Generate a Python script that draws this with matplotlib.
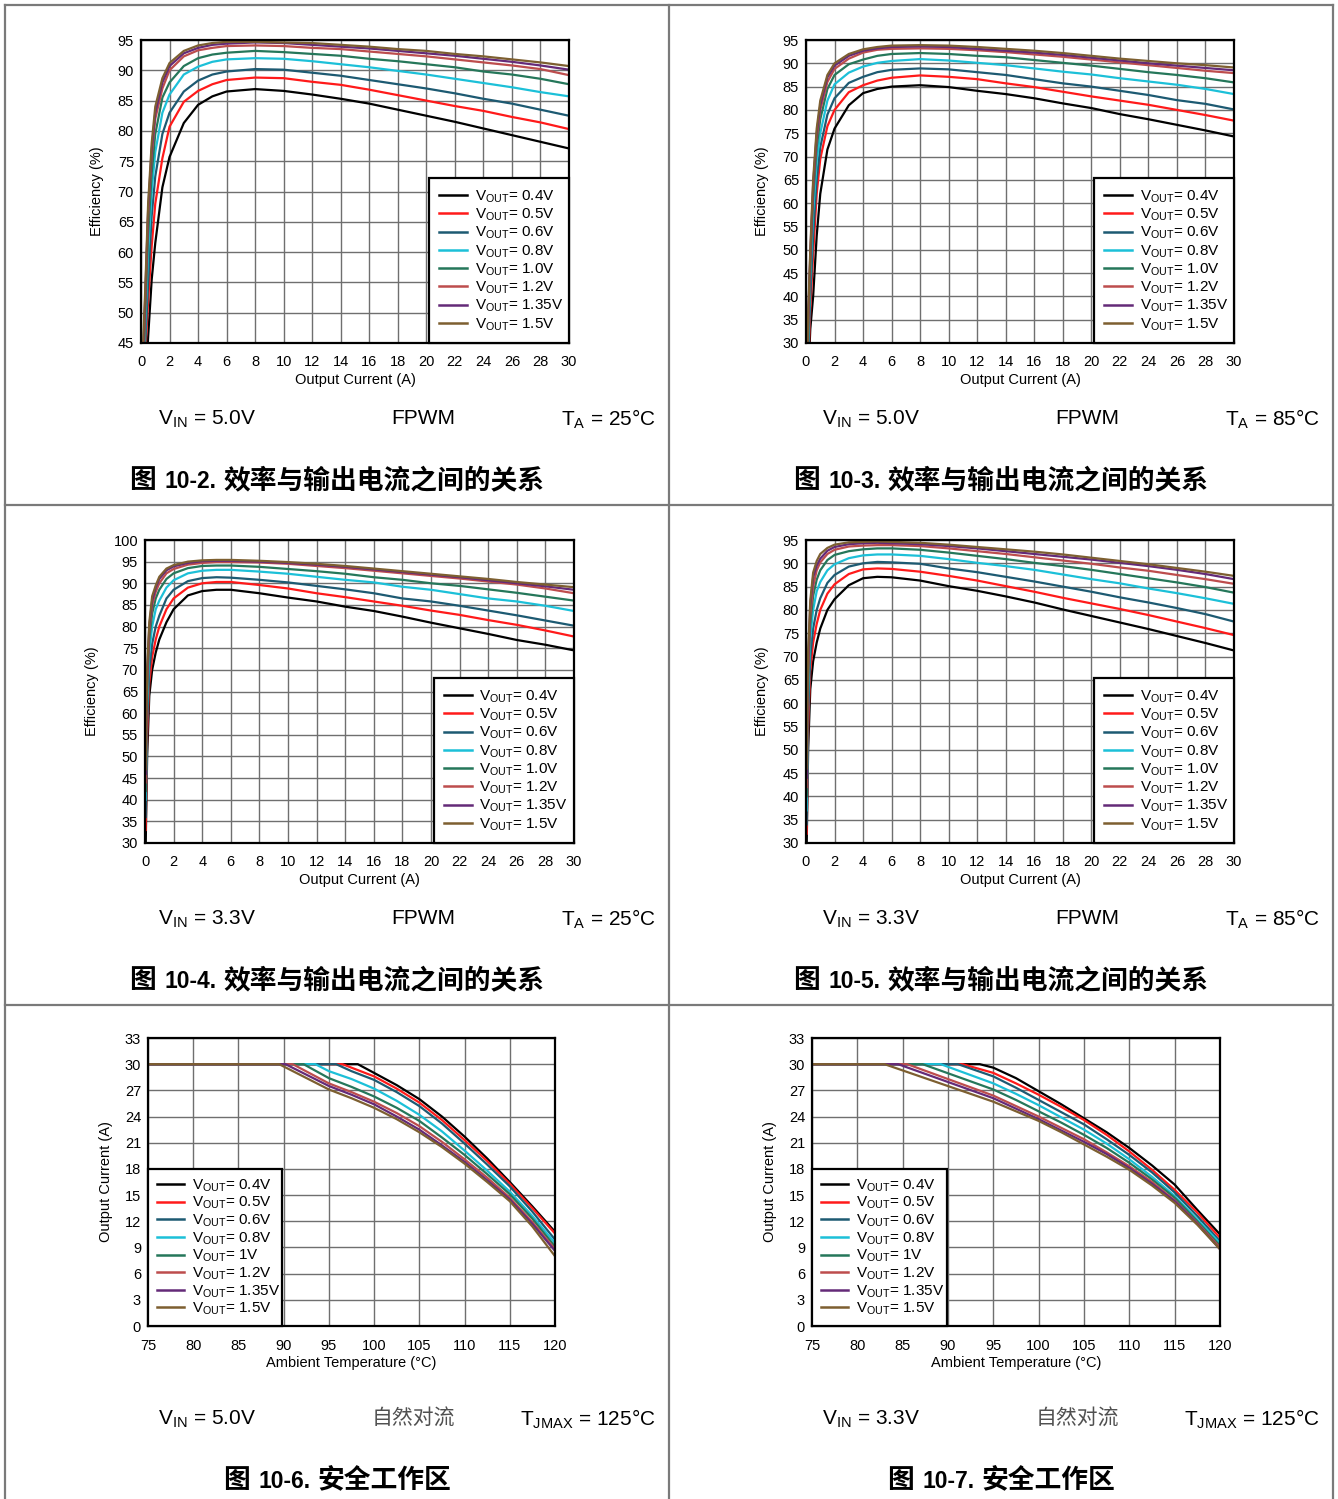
import matplotlib
matplotlib.use('Agg')
import matplotlib.pyplot as plt
from matplotlib.lines import Line2D

plt.rcParams['font.family'] = ['Liberation Sans', 'Noto Sans CJK SC', 'DejaVu Sans']
plt.rcParams['mathtext.fontset'] = 'custom'
plt.rcParams['mathtext.rm'] = 'Liberation Sans'
plt.rcParams['mathtext.it'] = 'Liberation Sans:italic'
plt.rcParams['mathtext.bf'] = 'Liberation Sans:bold'

# ---------------- data ----------------
VOUT_EFF = ['0.4V', '0.5V', '0.6V', '0.8V', '1.0V', '1.2V', '1.35V', '1.5V']
VOUT_SOA = ['0.4V', '0.5V', '0.6V', '0.8V', '1V', '1.2V', '1.35V', '1.5V']
COLORS = ['#000000', '#ff1a1a', '#1d5a72', '#1cc0d8', '#25775a', '#bd4d4d', '#642a78', '#7d5f30']

I_OUT = [0.05, 0.15, 0.3, 0.5, 0.75, 1, 1.5, 2, 3, 4, 5, 6, 8, 10, 12, 14, 16, 18, 20, 22, 24, 26, 28, 30]

EFF_5V_25C = [
    [10, 25, 38, 46, 55.5, 61.5, 70.7, 75.7, 81.3, 84.3, 85.7, 86.5, 86.9, 86.6, 86.0, 85.3, 84.5, 83.5, 82.5, 81.5, 80.4, 79.3, 78.2, 77.1],
    [12, 28, 43, 52, 61, 68, 75.5, 80.7, 84.8, 86.6, 87.7, 88.4, 88.8, 88.7, 88.1, 87.6, 86.8, 85.9, 85.0, 84.1, 83.3, 82.3, 81.4, 80.3],
    [14, 31, 45, 55, 66, 72.5, 79.5, 83, 86.5, 88.3, 89.3, 89.8, 90.2, 90.1, 89.6, 89.1, 88.4, 87.7, 87.0, 86.2, 85.3, 84.5, 83.5, 82.5],
    [16, 34, 48, 60, 70, 76.5, 83, 86, 89.3, 90.6, 91.4, 91.8, 92.0, 91.9, 91.5, 91.0, 90.5, 89.9, 89.3, 88.6, 87.9, 87.2, 86.4, 85.7],
    [18, 37, 50, 63, 73, 79.5, 85.5, 88, 90.7, 92, 92.6, 92.9, 93.2, 93.0, 92.7, 92.4, 91.9, 91.5, 91.0, 90.5, 89.8, 89.3, 88.6, 87.7],
    [20, 41, 52, 66, 76, 82, 87, 90, 92.3, 93.3, 93.7, 94.0, 94.1, 94.0, 93.7, 93.5, 93.1, 92.7, 92.3, 91.8, 91.3, 90.8, 90.2, 89.2],
    [21, 43, 53, 67, 77, 83, 88, 90.7, 92.8, 93.7, 94.2, 94.4, 94.6, 94.5, 94.2, 93.9, 93.6, 93.2, 92.8, 92.4, 91.9, 91.4, 90.8, 90.1],
    [22, 45, 54, 68, 78, 84, 88.7, 91.2, 93.2, 94.1, 94.5, 94.7, 94.7, 94.6, 94.5, 94.2, 93.9, 93.5, 93.2, 92.7, 92.3, 91.8, 91.3, 90.7],
]

EFF_5V_85C = [
    [10, 22, 33, 40, 53, 62, 71.5, 76, 81, 83.6, 84.5, 85.0, 85.3, 84.9, 84.1, 83.4, 82.5, 81.4, 80.4, 79.1, 78.0, 76.8, 75.6, 74.3],
    [11, 25, 37, 49, 62, 69.5, 76.5, 80, 83.8, 85.3, 86.3, 86.9, 87.4, 87.1, 86.6, 85.7, 84.9, 83.9, 82.9, 82.0, 81.1, 80.0, 78.9, 77.7],
    [12, 27, 40, 53, 65, 72, 79, 82.5, 85.8, 87.1, 88.1, 88.6, 88.9, 88.7, 88.1, 87.5, 86.6, 85.7, 85.0, 84.1, 83.2, 82.1, 81.3, 80.1],
    [13, 30, 44, 58, 69, 75, 82, 85.5, 88, 89.3, 90.1, 90.5, 90.9, 90.6, 90.1, 89.6, 88.9, 88.2, 87.6, 86.8, 86.1, 85.4, 84.5, 83.4],
    [14, 32, 46, 61, 72, 78, 84.5, 87.5, 89.8, 90.8, 91.6, 92.0, 92.2, 92.0, 91.6, 91.3, 90.7, 90.1, 89.5, 88.8, 88.1, 87.5, 86.8, 85.9],
    [15, 34, 48, 63, 74, 80, 86, 88.8, 91, 92.3, 92.9, 93.1, 93.2, 93.1, 92.8, 92.4, 91.9, 91.4, 90.8, 90.2, 89.6, 89.0, 88.4, 87.9],
    [16, 35, 49, 64, 75, 81, 87, 89.5, 91.6, 92.7, 93.2, 93.5, 93.6, 93.5, 93.1, 92.7, 92.3, 91.8, 91.2, 90.6, 90.0, 89.5, 89.0, 88.5],
    [17, 36, 50, 65, 76, 82, 87.5, 90, 92, 93, 93.5, 93.8, 93.9, 93.8, 93.5, 93.1, 92.7, 92.2, 91.6, 91.0, 90.5, 90.0, 89.6, 89.1],
]

EFF_33V_25C = [
    [30, 50, 64, 70, 74, 77, 81, 84, 87.2, 88.2, 88.5, 88.5, 87.7, 86.7, 85.8, 84.6, 83.6, 82.3, 80.9, 79.6, 78.3, 76.9, 75.8, 74.5],
    [33, 55, 67, 73, 77, 80, 84, 86.5, 89, 90, 90.3, 90.3, 89.6, 88.8, 87.7, 86.8, 85.8, 84.8, 83.7, 82.7, 81.5, 80.4, 79.1, 77.7],
    [36, 58, 70, 76, 80, 82.5, 86.5, 88.5, 90.5, 91.2, 91.4, 91.3, 90.8, 90.2, 89.4, 88.6, 87.7, 86.5, 85.8, 84.8, 83.7, 82.6, 81.4, 80.2],
    [40, 62, 74, 80, 84, 86, 89, 90.7, 92.3, 92.9, 93.1, 93.1, 92.7, 92.2, 91.5, 90.8, 90.2, 89.2, 88.5, 87.5, 86.5, 85.8, 84.8, 83.6],
    [42, 65, 77, 83, 86.5, 88.5, 91, 92.3, 93.5, 94, 94.1, 94.1, 93.8, 93.3, 92.8, 92.2, 91.4, 90.8, 90.0, 89.4, 88.6, 87.8, 86.9, 86.0],
    [44, 67, 79, 85, 88, 90, 92.3, 93.3, 94.3, 94.7, 94.9, 94.9, 94.8, 94.5, 94.0, 93.5, 92.9, 92.3, 91.7, 91.1, 90.4, 89.7, 88.8, 87.7],
    [46, 69, 80, 86, 89, 91, 93, 93.9, 94.7, 95.1, 95.2, 95.2, 95.0, 94.7, 94.3, 93.8, 93.2, 92.6, 92.0, 91.4, 90.7, 90.0, 89.3, 88.5],
    [47, 70, 81, 87, 89.5, 91.5, 93.4, 94.2, 95, 95.3, 95.4, 95.4, 95.2, 94.9, 94.5, 94.0, 93.4, 92.8, 92.2, 91.6, 91.0, 90.3, 89.7, 89.1],
]

EFF_33V_85C = [
    [30, 50, 63, 69, 73, 76, 80, 82.3, 85.3, 86.8, 87.1, 87.0, 86.3, 85.1, 84.1, 82.9, 81.6, 80.1, 78.7, 77.3, 75.9, 74.4, 72.9, 71.3],
    [32, 55, 67, 73, 77, 80, 83.5, 85.5, 87.7, 88.7, 88.9, 88.8, 88.2, 87.3, 86.3, 85.1, 83.9, 82.6, 81.4, 80.2, 78.9, 77.5, 76.1, 74.6],
    [34, 58, 70, 76, 80, 82.5, 85.8, 87.5, 89.3, 90.0, 90.3, 90.2, 89.9, 88.9, 88.1, 87.1, 86.1, 85.0, 83.9, 82.7, 81.6, 80.4, 79.1, 77.5],
    [37, 62, 74, 80, 84, 86, 88.5, 89.8, 91.1, 91.7, 91.9, 91.9, 91.6, 90.9, 90.1, 89.4, 88.6, 87.6, 86.6, 85.7, 84.6, 83.6, 82.5, 81.3],
    [40, 65, 77, 83, 86.5, 88.5, 90.7, 91.8, 92.6, 93.0, 93.2, 93.2, 92.9, 92.3, 91.6, 90.9, 90.1, 89.4, 88.6, 87.7, 86.8, 85.9, 84.9, 83.7],
    [42, 67, 79, 85, 88.5, 90.2, 92, 92.9, 93.6, 93.8, 93.9, 93.9, 93.7, 93.2, 92.6, 92.0, 91.3, 90.6, 89.9, 89.1, 88.4, 87.5, 86.6, 85.6],
    [44, 69, 81, 87, 89.5, 91, 92.7, 93.5, 94.1, 94.3, 94.4, 94.3, 94.1, 93.7, 93.2, 92.6, 92.0, 91.4, 90.8, 90.1, 89.4, 88.6, 87.7, 86.6],
    [46, 71, 82, 88, 90.5, 92, 93.3, 94, 94.5, 94.6, 94.7, 94.6, 94.4, 94.0, 93.5, 93.0, 92.5, 91.9, 91.2, 90.5, 89.8, 89.0, 88.2, 87.3],
]

# Safe operating area: flat 30 A up to the knee temperature, then values at TEMP_GRID
T_START = 75
I_MAX = 30
TEMP_GRID = [95, 97.5, 100, 102.5, 105, 107.5, 110, 112.5, 115, 117.5, 120]

SOA_5V_KNEE = [98.2, 96.5, 95.8, 93.5, 92.2, 91.0, 90.2, 89.5]
SOA_5V = [
    [30, 30, 29.0, 27.6, 26.0, 24.0, 21.7, 19.2, 16.5, 13.7, 10.8],
    [30, 29.6, 28.6, 27.2, 25.6, 23.6, 21.3, 18.9, 16.3, 13.5, 10.6],
    [30, 29.2, 28.2, 26.8, 25.2, 23.2, 20.9, 18.5, 16.0, 13.1, 9.9],
    [29.2, 28.3, 27.2, 25.8, 24.2, 22.3, 20.1, 17.8, 15.4, 12.6, 9.5],
    [28.4, 27.4, 26.3, 25.0, 23.5, 21.6, 19.6, 17.4, 15.1, 12.3, 9.1],
    [27.8, 26.8, 25.7, 24.4, 22.9, 21.1, 19.1, 17.0, 14.7, 11.9, 8.8],
    [27.5, 26.5, 25.4, 24.0, 22.5, 20.7, 18.8, 16.7, 14.5, 11.7, 8.6],
    [27.1, 26.1, 25.0, 23.7, 22.2, 20.5, 18.6, 16.5, 14.3, 11.4, 8.0],
]

SOA_33V_KNEE = [93.5, 91.6, 91.1, 89.2, 87.2, 85.5, 84.5, 83.0]
SOA_33V = [
    [29.6, 28.4, 26.9, 25.4, 23.8, 22.2, 20.4, 18.4, 16.2, 13.3, 10.5],
    [29.0, 27.8, 26.5, 25.1, 23.6, 21.9, 20.0, 17.9, 15.6, 13.0, 10.1],
    [28.6, 27.3, 25.9, 24.5, 23.1, 21.4, 19.6, 17.6, 15.3, 12.6, 9.7],
    [27.8, 26.6, 25.3, 23.9, 22.5, 20.9, 19.1, 17.1, 14.9, 12.2, 9.5],
    [27.1, 25.9, 24.6, 23.3, 21.9, 20.4, 18.7, 16.8, 14.7, 12.0, 9.2],
    [26.4, 25.2, 24.0, 22.7, 21.4, 19.9, 18.3, 16.5, 14.4, 11.8, 9.0],
    [26.1, 24.9, 23.7, 22.4, 21.1, 19.7, 18.1, 16.3, 14.3, 11.7, 8.8],
    [25.7, 24.6, 23.5, 22.2, 20.8, 19.4, 17.9, 16.1, 14.1, 11.6, 8.8],
]

# ---------------- figure ----------------
W, H = 1338, 1499
fig = plt.figure(figsize=(W / 100, H / 100), dpi=100)


def fx(px):
    return px / W


def fy(py):
    return 1 - py / H


def px_rect(l, r, t, b):
    return [fx(l), fy(b), (r - l) / W, (b - t) / H]


BORDER = '#7a7a7a'
for (x0, y0, x1, y1) in [(5, 5, 1333, 5), (5, 5, 5, 1499), (1333, 5, 1333, 1499),
                         (669, 5, 669, 1499), (5, 505, 1333, 505), (5, 1005, 1333, 1005)]:
    fig.add_artist(Line2D([fx(x0), fx(x1)], [fy(y0), fy(y1)], color=BORDER, lw=1.6,
                          transform=fig.transFigure))

TICK_FS = 10.5
LEG_FS = 11


def style_axes(ax):
    ax.grid(True, color='#6f6f6f', lw=1.0)
    ax.set_axisbelow(True)
    for s in ax.spines.values():
        s.set_linewidth(1.6)
        s.set_color('black')
    ax.tick_params(length=0, labelsize=TICK_FS)
    ax.tick_params(axis='y', pad=5)
    ax.tick_params(axis='x', pad=9)


def add_legend(ax, bbox, spacing, bpad):
    leg = ax.legend(loc='lower left', bbox_to_anchor=bbox, mode='expand', borderaxespad=0,
                    fancybox=False, edgecolor='black', framealpha=1, fontsize=LEG_FS,
                    handlelength=1.8, handletextpad=0.5, labelspacing=spacing, borderpad=bpad)
    leg.get_frame().set_linewidth(1.6)
    for ln in leg.get_lines():
        ln.set_linewidth(1.8)


def vlabel(v):
    return r'V$_{\mathregular{OUT}}$= ' + v


def eff_chart(rect, ylo, yhi, series, ylab_x):
    ax = fig.add_axes(px_rect(*rect))
    for v, col, ys in zip(VOUT_EFF, COLORS, series):
        ax.plot(I_OUT, ys, color=col, lw=1.6, label=vlabel(v))
    ax.set_xlim(0, 30)
    ax.set_ylim(ylo, yhi)
    ax.set_xticks(range(0, 31, 2))
    ax.set_yticks(range(ylo, yhi + 1, 5))
    style_axes(ax)
    ax.set_xlabel('Output Current (A)', fontsize=TICK_FS)
    ax.set_ylabel('Efficiency (%)', fontsize=TICK_FS)
    ax.xaxis.set_label_coords(0.5, -0.1)
    ax.yaxis.set_label_coords(ylab_x, 0.5)
    add_legend(ax, (0.673, 0, 0.327, 0.545), 0.12, 0.68)
    return ax


def soa_chart(rect, knees, series):
    ax = fig.add_axes(px_rect(*rect))
    for v, col, k, ys in zip(VOUT_SOA, COLORS, knees, series):
        ts = [T_START, k] + [t for t in TEMP_GRID if t > k]
        cs = [I_MAX, I_MAX] + [c for t, c in zip(TEMP_GRID, ys) if t > k]
        ax.plot(ts, cs, color=col, lw=1.6, label=vlabel(v))
    ax.set_xlim(75, 120)
    ax.set_ylim(0, 33)
    ax.set_xticks(range(75, 121, 5))
    ax.set_yticks(range(0, 34, 3))
    style_axes(ax)
    ax.set_xlabel('Ambient Temperature (°C)', fontsize=TICK_FS)
    ax.set_ylabel('Output Current (A)', fontsize=TICK_FS)
    ax.xaxis.set_label_coords(0.5, -0.105)
    ax.yaxis.set_label_coords(-0.086, 0.5)
    add_legend(ax, (0, 0, 0.33, 0.545), 0.08, 0.58)
    return ax


eff_chart((141, 569, 40, 343), 45, 95, EFF_5V_25C, -0.086)
eff_chart((806, 1234, 40, 343), 30, 95, EFF_5V_85C, -0.086)
eff_chart((145, 574, 540, 843), 30, 100, EFF_33V_25C, -0.107)
eff_chart((806, 1234, 540, 843), 30, 95, EFF_33V_85C, -0.086)
soa_chart((148, 555, 1038, 1326), SOA_5V_KNEE, SOA_5V)
soa_chart((812, 1220, 1038, 1326), SOA_33V_KNEE, SOA_33V)

# ---------------- condition lines & captions ----------------
COND_FS = 15


def cond_row(y, dx, vin, mid, right, mid_x, mid_kw=None):
    fig.text(fx(158 + dx), fy(y), r'V$_{\mathregular{IN}}$ = ' + vin, fontsize=COND_FS,
             ha='left', va='center')
    kw = dict(fontsize=COND_FS, ha='center', va='center')
    if mid_kw:
        kw.update(mid_kw)
    fig.text(fx(mid_x + dx), fy(y), mid, **kw)
    fig.text(fx(656 + dx), fy(y), right, fontsize=COND_FS, ha='right', va='center')


TA25 = r'T$_{\mathregular{A}}$ = 25°C'
TA85 = r'T$_{\mathregular{A}}$ = 85°C'
TJ = r'T$_{\mathregular{JMAX}}$ = 125°C'
natural = dict(family=['Noto Sans CJK SC'], color='#505050')

cond_row(419, 0, '5.0V', 'FPWM', TA25, 423)
cond_row(419, 664, '5.0V', 'FPWM', TA85, 423)
cond_row(919, 0, '3.3V', 'FPWM', TA25, 423)
cond_row(919, 664, '3.3V', 'FPWM', TA85, 423)
cond_row(1419, 0, '5.0V', '自然对流', TJ, 413, natural)
cond_row(1419, 664, '3.3V', '自然对流', TJ, 413, natural)

# Captions: CJK part slightly larger than the Latin figure number
CJK_FS = 19.3
LAT_FS = 16.5
CAPTIONS = [
    (337, 488, '10-2.', '效率与输出电流之间的关系'),
    (1001, 488, '10-3.', '效率与输出电流之间的关系'),
    (337, 988, '10-4.', '效率与输出电流之间的关系'),
    (1001, 988, '10-5.', '效率与输出电流之间的关系'),
    (337, 1488, '10-6.', '安全工作区'),
    (1001, 1488, '10-7.', '安全工作区'),
]
renderer = fig.canvas.get_renderer()
for cx, base_y, num, rest in CAPTIONS:
    parts = [('图', CJK_FS, ['Noto Sans CJK SC']),
             (num, LAT_FS, ['Liberation Sans']),
             (rest, CJK_FS, ['Noto Sans CJK SC'])]
    gaps = [9, 7]
    texts = [fig.text(0, fy(base_y), s, fontsize=fs, fontweight='bold', family=fam,
                      ha='left', va='baseline') for s, fs, fam in parts]
    widths = [t.get_window_extent(renderer).width for t in texts]
    total = sum(widths) + sum(gaps)
    x = cx - total / 2
    for i, t in enumerate(texts):
        t.set_x(fx(x))
        x += widths[i] + (gaps[i] if i < len(gaps) else 0)

fig.savefig('out.png', dpi=100)
